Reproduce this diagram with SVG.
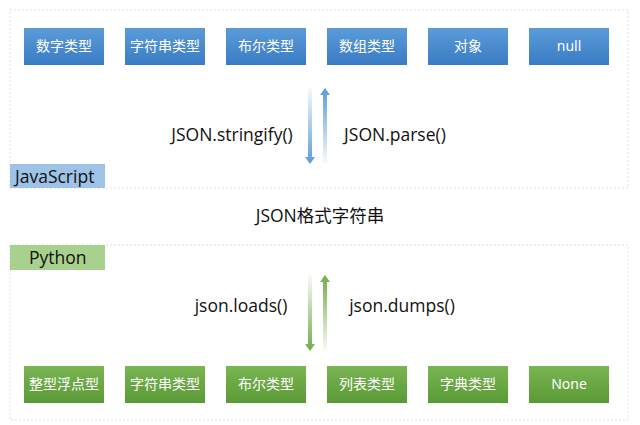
<svg xmlns="http://www.w3.org/2000/svg" width="640" height="425" viewBox="0 0 640 425">
<defs>
<linearGradient id="bb" x1="0" y1="0" x2="0" y2="1"><stop offset="0" stop-color="#5b9bd8"/><stop offset="1" stop-color="#3a7cc4"/></linearGradient>
<linearGradient id="gb" x1="0" y1="0" x2="0" y2="1"><stop offset="0" stop-color="#7ab552"/><stop offset="1" stop-color="#5a9a36"/></linearGradient>
<linearGradient id="bdown" x1="0" y1="0" x2="0" y2="1"><stop offset="0" stop-color="#5b9bd5" stop-opacity="0.05"/><stop offset="1" stop-color="#5b9bd5"/></linearGradient>
<linearGradient id="bup" x1="0" y1="0" x2="0" y2="1"><stop offset="0" stop-color="#5b9bd5"/><stop offset="1" stop-color="#5b9bd5" stop-opacity="0.05"/></linearGradient>
<linearGradient id="gdown" x1="0" y1="0" x2="0" y2="1"><stop offset="0" stop-color="#70ad47" stop-opacity="0.05"/><stop offset="1" stop-color="#70ad47"/></linearGradient>
<linearGradient id="gup" x1="0" y1="0" x2="0" y2="1"><stop offset="0" stop-color="#70ad47"/><stop offset="1" stop-color="#70ad47" stop-opacity="0.05"/></linearGradient>
</defs>
<style>
.frame{fill:#fff;stroke:#ddd;stroke-dasharray:2 2}
.bt{font-family:"Noto Sans","Noto Sans CJK SC",sans-serif;font-size:14px;fill:#fff;text-anchor:middle}
.lb{font-family:"Open Sans","Noto Sans CJK SC",sans-serif;font-size:17.5px;fill:#111;text-anchor:middle}
.tag{font-family:"Open Sans",sans-serif;font-size:17.5px;fill:#111}
</style>
<rect x="0" y="0" width="640" height="425" fill="#fff"/>
<rect class="frame" x="10" y="10" width="618" height="178"/>
<rect class="frame" x="10" y="245" width="618" height="175"/>
<g id="js-label"><rect x="10" y="164" width="95" height="24" fill="#9ec3e6"/><text class="tag" x="15" y="183">JavaScript</text></g>
<g id="py-label"><rect x="10" y="245" width="95" height="25" fill="#a9d18e"/><text class="tag" x="29" y="264">Python</text></g>
<g id="js-nodes">
<g id="js1"><rect x="24" y="28" width="80" height="37" fill="url(#bb)"/><text class="bt" x="64" y="51">数字类型</text></g>
<g id="js2"><rect x="125" y="28" width="80" height="37" fill="url(#bb)"/><text class="bt" x="165" y="51">字符串类型</text></g>
<g id="js3"><rect x="226" y="28" width="80" height="37" fill="url(#bb)"/><text class="bt" x="266" y="51">布尔类型</text></g>
<g id="js4"><rect x="327" y="28" width="80" height="37" fill="url(#bb)"/><text class="bt" x="367" y="51">数组类型</text></g>
<g id="js5"><rect x="428" y="28" width="80" height="37" fill="url(#bb)"/><text class="bt" x="468" y="51">对象</text></g>
<g id="js6"><rect x="529" y="28" width="80" height="37" fill="url(#bb)"/><text class="bt" x="569" y="51">null</text></g>
</g>
<g id="py-nodes">
<g id="py1"><rect x="24" y="366" width="80" height="37" fill="url(#gb)"/><text class="bt" x="64" y="389">整型浮点型</text></g>
<g id="py2"><rect x="125" y="366" width="80" height="37" fill="url(#gb)"/><text class="bt" x="165" y="389">字符串类型</text></g>
<g id="py3"><rect x="226" y="366" width="80" height="37" fill="url(#gb)"/><text class="bt" x="266" y="389">布尔类型</text></g>
<g id="py4"><rect x="327" y="366" width="80" height="37" fill="url(#gb)"/><text class="bt" x="367" y="389">列表类型</text></g>
<g id="py5"><rect x="428" y="366" width="80" height="37" fill="url(#gb)"/><text class="bt" x="468" y="389">字典类型</text></g>
<g id="py6"><rect x="529" y="366" width="80" height="37" fill="url(#gb)"/><text class="bt" x="569" y="389">None</text></g>
</g>
<g id="connectors">
<polygon points="308,88 312,88 312,157 315,157 310,164 305,157 308,157" fill="url(#bdown)"/>
<polygon points="323,95 320,95 325,88 330,95 327,95 327,163 323,163" fill="url(#bup)"/>
<polygon points="308,275 312,275 312,344 315,344 310,351 305,344 308,344" fill="url(#gdown)"/>
<polygon points="323,282 320,282 325,275 330,282 327,282 327,351 323,351" fill="url(#gup)"/>
</g>
<text class="lb" x="232" y="141">JSON.stringify()</text>
<text class="lb" x="395" y="141">JSON.parse()</text>
<text class="lb" x="320" y="222">JSON格式字符串</text>
<text class="lb" x="241" y="312">json.loads()</text>
<text class="lb" x="402" y="312">json.dumps()</text>
</svg>
